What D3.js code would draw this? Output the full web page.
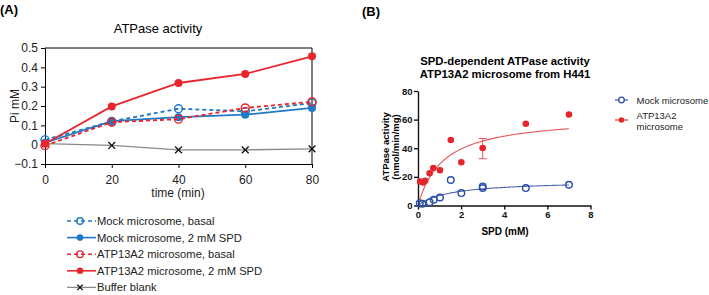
<!DOCTYPE html>
<html>
<head>
<meta charset="utf-8">
<script src="https://cdn.jsdelivr.net/npm/d3@7"></script>
<style>
  body { margin: 0; background: #fff; }
  svg { font-family: "Liberation Sans", Arial, sans-serif; }
</style>
</head>
<body>
<svg id="chart" width="709" height="295"></svg>
<script>
// ---- Panel A data: Pi (mM) over time ----
const times = [0, 20, 40, 60, 80];
const mockBasal = [0.025, 0.12, 0.186, 0.172, 0.215];
const mockSpd = [0.01, 0.122, 0.142, 0.155, 0.19];
const atpBasal = [-0.005, 0.116, 0.132, 0.19, 0.222];
const atpSpd = [0.005, 0.198, 0.319, 0.366, 0.457];
const bufferBlank = [0.005, -0.004, -0.027, -0.027, -0.022];
const yTicksA = [-0.1, 0, 0.1, 0.2, 0.3, 0.4, 0.5];

// ---- Panel B data: SPD-dependent ATPase activity ----
const spdMock = [0.08, 0.2, 0.54, 0.73, 1.02, 1.52, 2.01, 3.0, 3.0, 5.0, 7.0];
const actMock = [1.6, 1.2, 2.3, 4.0, 5.6, 17.8, 8.7, 13.3, 12.2, 12.2, 14.5];
const spdAtp = [0.1, 0.23, 0.33, 0.54, 0.71, 1.02, 1.52, 2.01, 3.0, 5.0, 7.0];
const actAtp = [16.8, 16.1, 17.3, 22.5, 26.2, 24.6, 45.8, 30.2, 40.2, 57.1, 63.6];
const atpErr = [null, null, null, null, null, null, null, null, [32.7, 46.8], null, null];
// Michaelis-Menten fit parameters
const fitMock = { vmax: 17.4, km: 1.5 };
const fitAtp = { vmax: 62.6, km: 1.17 };

const svg = d3.select("#chart");

/* ================= Panel A ================= */
const blue = "#1f78c8", red = "#e8262d";
const seriesA = [
  { name: "Mock microsome, basal", vals: mockBasal, color: blue, dash: "4,3", marker: "open" },
  { name: "Mock microsome, 2 mM SPD", vals: mockSpd, color: blue, dash: null, marker: "filled" },
  { name: "ATP13A2 microsome, basal", vals: atpBasal, color: red, dash: "4,3", marker: "open" },
  { name: "ATP13A2 microsome, 2 mM SPD", vals: atpSpd, color: red, dash: null, marker: "filled" },
  { name: "Buffer blank", vals: bufferBlank, color: "#8a8a8a", dash: null, marker: "x" }
];

const xA = d3.scaleLinear().domain([0, 80]).range([45, 312]);
const yA = d3.scaleLinear().domain([-0.1, 0.5]).range([164, 48]);

svg.append("text").attr("x", 0).attr("y", 14)
  .attr("font-weight", "bold").attr("font-size", 13).text("(A)");
svg.append("text").attr("x", 158).attr("y", 33)
  .attr("text-anchor", "middle").attr("font-size", 13).text("ATPase activity");

// box top and right
svg.append("path")
  .attr("d", `M${xA(0)},${yA(0.5)}H${xA(80)}V${yA(-0.1)}`)
  .attr("fill", "none").attr("stroke", "#000").attr("stroke-width", 1);

const gxA = svg.append("g").attr("transform", `translate(0,${yA(-0.1)})`)
  .call(d3.axisBottom(xA).tickValues(times).tickSize(4).tickSizeOuter(0));
const gyA = svg.append("g").attr("transform", `translate(${xA(0)},0)`)
  .call(d3.axisLeft(yA).tickValues(yTicksA).tickSize(4).tickSizeOuter(0)
    .tickFormat(d => d === 0 ? "0" : d3.format(".1f")(d)));
[gxA, gyA].forEach(g => {
  g.selectAll("text").attr("font-size", 12).attr("fill", "#222")
    .attr("font-family", "Liberation Sans, Arial, sans-serif");
  g.selectAll("path,line").attr("stroke", "#000");
});
gxA.selectAll("text").attr("dy", "1.05em");

svg.append("text").attr("x", 178).attr("y", 197)
  .attr("text-anchor", "middle").attr("font-size", 12).attr("fill", "#222").text("time (min)");
svg.append("text").attr("transform", "translate(19,106) rotate(-90)")
  .attr("text-anchor", "middle").attr("font-size", 12).attr("fill", "#222").text("Pi mM");

function drawMarker(g, type, color, cx, cy, r) {
  if (type === "open") {
    g.append("circle").attr("cx", cx).attr("cy", cy).attr("r", r)
      .attr("fill", "none").attr("stroke", color).attr("stroke-width", 1.4);
  } else if (type === "filled") {
    g.append("circle").attr("cx", cx).attr("cy", cy).attr("r", r)
      .attr("fill", color);
  } else {
    const s = r * 0.85;
    g.append("path")
      .attr("d", `M${cx - s},${cy - s}L${cx + s},${cy + s}M${cx - s},${cy + s}L${cx + s},${cy - s}`)
      .attr("stroke", "#111").attr("stroke-width", 1.3);
  }
}

const lineA = d3.line().x((d, i) => xA(times[i])).y(d => yA(d));
const plotA = svg.append("g");
// draw order: blank, mock, atp
[4, 1, 0, 3, 2].forEach(k => {
  const s = seriesA[k];
  plotA.append("path").attr("d", lineA(s.vals))
    .attr("fill", "none").attr("stroke", s.color)
    .attr("stroke-width", s.marker === "x" ? 1.3 : 1.8)
    .attr("stroke-dasharray", s.dash);
  s.vals.forEach((v, i) => drawMarker(plotA, s.marker, s.color, xA(times[i]), yA(v), 4));
});

// legend A
const legA = svg.append("g");
seriesA.forEach((s, i) => {
  const y = 221 + i * 16.6;
  legA.append("line").attr("x1", 67).attr("x2", 96).attr("y1", y).attr("y2", y)
    .attr("stroke", s.color).attr("stroke-width", s.marker === "x" ? 1.3 : 1.6)
    .attr("stroke-dasharray", s.dash);
  drawMarker(legA, s.marker, s.color, 80, y, s.marker === "x" ? 3.2 : 3.3);
  legA.append("text").attr("x", 97).attr("y", y + 4)
    .attr("font-size", 11.2).attr("fill", "#222").text(s.name);
});

/* ================= Panel B ================= */
const blueB = "#2a4ea6", redB = "#e3262c";
const xB = d3.scaleLinear().domain([0, 8]).range([418, 590.5]);
const yB = d3.scaleLinear().domain([0, 80]).range([205.5, 91]);

svg.append("text").attr("x", 362).attr("y", 16)
  .attr("font-weight", "bold").attr("font-size", 13).text("(B)");
svg.append("text").attr("x", 505).attr("y", 65).attr("text-anchor", "middle")
  .attr("font-weight", "bold").attr("font-size", 11.3).text("SPD-dependent ATPase activity");
svg.append("text").attr("x", 505).attr("y", 77.5).attr("text-anchor", "middle")
  .attr("font-weight", "bold").attr("font-size", 11.3).text("ATP13A2 microsome from H441");

const gxB = svg.append("g").attr("transform", `translate(0,${yB(0)})`)
  .call(d3.axisBottom(xB).ticks(4).tickSize(4).tickSizeOuter(0));
const gyB = svg.append("g").attr("transform", `translate(${xB(0)},0)`)
  .call(d3.axisLeft(yB).ticks(4).tickSize(4).tickSizeOuter(0));
[gxB, gyB].forEach(g => {
  g.selectAll("text").attr("font-size", 9.5).attr("font-weight", "bold").attr("fill", "#111")
    .attr("font-family", "Liberation Sans, Arial, sans-serif");
  g.selectAll("path,line").attr("stroke", "#111").attr("stroke-width", 1.4);
});
gyB.selectAll("text").attr("x", -5.5);
gxB.selectAll("text").attr("y", 6).attr("dy", "0.71em");

svg.append("text").attr("x", 505).attr("y", 234.5).attr("text-anchor", "middle")
  .attr("font-weight", "bold").attr("font-size", 10).text("SPD (mM)");
const yLab = svg.append("text").attr("transform", "translate(389,147) rotate(-90)")
  .attr("text-anchor", "middle").attr("font-weight", "bold").attr("font-size", 9.5);
yLab.append("tspan").attr("x", 0).attr("dy", 0).text("ATPase activity");
yLab.append("tspan").attr("x", 0).attr("dy", "1.1em").text("(nmol/min/mg)");

// fit curves
const fitXs = d3.range(0.05, 7.001, 0.05);
const curve = fit => d3.line().x(d => xB(d)).y(d => yB(fit.vmax * d / (fit.km + d)));
svg.append("path").datum(fitXs).attr("d", curve(fitMock))
  .attr("fill", "none").attr("stroke", "#4a66b4").attr("stroke-width", 1.1);
svg.append("path").datum(fitXs).attr("d", curve(fitAtp))
  .attr("fill", "none").attr("stroke", "#e8555a").attr("stroke-width", 1.1);

// error bars
atpErr.forEach((e, i) => {
  if (!e) return;
  const x = xB(spdAtp[i]);
  svg.append("path")
    .attr("d", `M${x},${yB(e[0])}V${yB(e[1])}M${x - 4},${yB(e[0])}H${x + 4}M${x - 4},${yB(e[1])}H${x + 4}`)
    .attr("stroke", "#e8555a").attr("stroke-width", 1).attr("fill", "none");
});

svg.append("g").selectAll("circle").data(spdMock).join("circle")
  .attr("cx", d => xB(d)).attr("cy", (d, i) => yB(actMock[i])).attr("r", 3.3)
  .attr("fill", "none").attr("stroke", blueB).attr("stroke-width", 1.4);
svg.append("g").selectAll("circle").data(spdAtp).join("circle")
  .attr("cx", d => xB(d)).attr("cy", (d, i) => yB(actAtp[i])).attr("r", 3.3)
  .attr("fill", redB);

// legend B
const legB = svg.append("g");
legB.append("line").attr("x1", 615).attr("x2", 628).attr("y1", 100).attr("y2", 100)
  .attr("stroke", blueB).attr("stroke-width", 1.1);
legB.append("circle").attr("cx", 621.5).attr("cy", 100).attr("r", 2.8)
  .attr("fill", "#fff").attr("stroke", blueB).attr("stroke-width", 1.3);
legB.append("text").attr("x", 636.5).attr("y", 103.5).attr("font-size", 9.5).attr("fill", "#222")
  .text("Mock microsome");
legB.append("line").attr("x1", 615).attr("x2", 628).attr("y1", 120).attr("y2", 120)
  .attr("stroke", redB).attr("stroke-width", 1.1);
legB.append("circle").attr("cx", 621.5).attr("cy", 120).attr("r", 2.8).attr("fill", redB);
legB.append("text").attr("x", 636.5).attr("y", 118.5).attr("font-size", 9.5).attr("fill", "#222")
  .text("ATP13A2");
legB.append("text").attr("x", 636.5).attr("y", 129.5).attr("font-size", 9.5).attr("fill", "#222")
  .text("microsome");
</script>
</body>
</html>
